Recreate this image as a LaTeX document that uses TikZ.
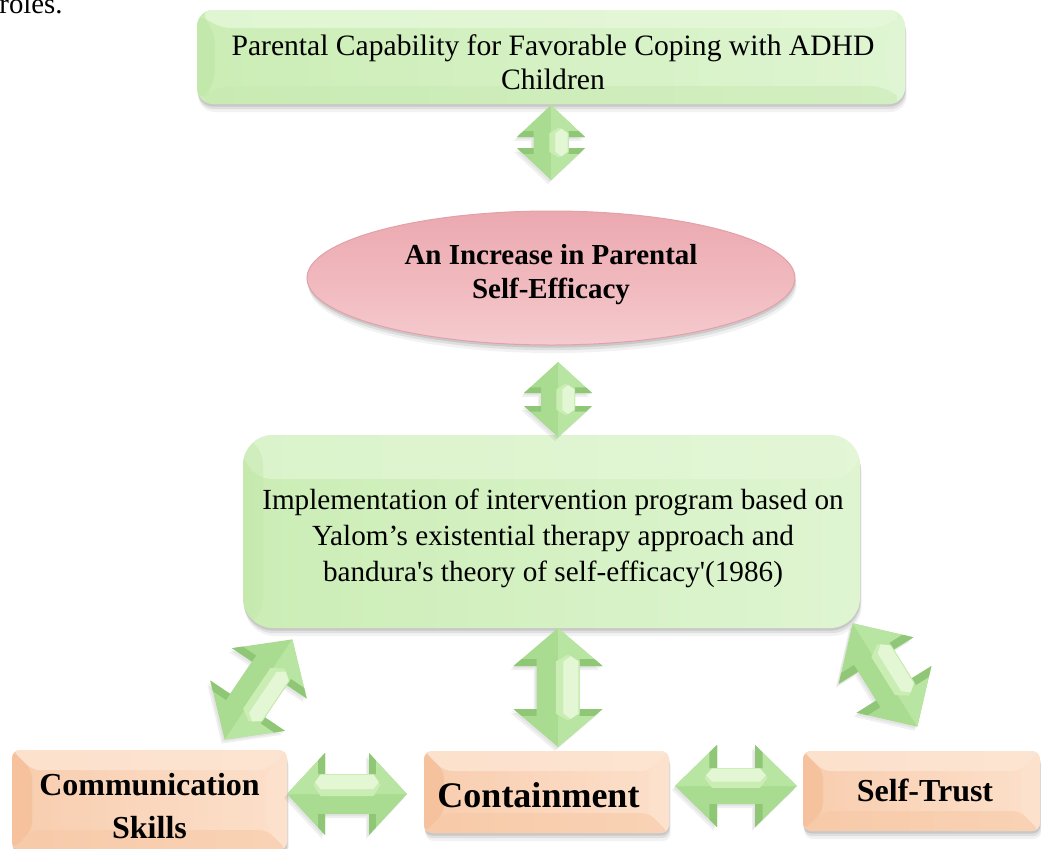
\documentclass[tikz,border=0pt]{standalone}
\usepackage{fontspec}
\setmainfont{Liberation Serif}
% plain family: keeps straight apostrophes as typed
\newfontfamily\bodyfont{Liberation Serif}
\usetikzlibrary{shapes.geometric,shadows,calc}

\definecolor{arrBase}{HTML}{A9DC90}
\definecolor{arrLight}{HTML}{B9E5A3}
\definecolor{arrDark}{HTML}{8FC777}
\definecolor{arrHexA}{HTML}{C9EDB3}
\definecolor{arrHexB}{HTML}{E4F7D5}
\definecolor{grLeftShade}{HTML}{CBEDB5}
\definecolor{grRightShade}{HTML}{DFF5D2}
\definecolor{grTop}{HTML}{E6F8DA}
\definecolor{grLeft}{HTML}{BDE5A3}
\definecolor{grRight}{HTML}{E2F6D6}
\definecolor{grBottom}{HTML}{C8EAB2}
\definecolor{orLeftShade}{HTML}{F8CDAE}
\definecolor{orRightShade}{HTML}{FCE0CB}
\definecolor{orTop}{HTML}{FDE6D4}
\definecolor{orLeft}{HTML}{F4BB92}
\definecolor{orRight}{HTML}{FCE2CF}
\definecolor{orBottom}{HTML}{F7C9A6}
\definecolor{pkTop}{HTML}{EBA9B0}
\definecolor{pkMid}{HTML}{F0B8BD}
\definecolor{pkBottom}{HTML}{F5CBCF}
\definecolor{pkEdge}{HTML}{E3A0A8}

% bevelled faces inside a box (top, left, right, bottom colours; inset)
\newcommand\bevelfaces[5]{%
  \fill[#1] (path picture bounding box.north west) -- (path picture bounding box.north east)
     -- ([xshift=-#5,yshift=-#5]path picture bounding box.north east)
     -- ([xshift=#5,yshift=-#5]path picture bounding box.north west) -- cycle;
  \fill[#2] (path picture bounding box.north west) -- ([xshift=#5,yshift=-#5]path picture bounding box.north west)
     -- ([xshift=#5,yshift=#5]path picture bounding box.south west) -- (path picture bounding box.south west) -- cycle;
  \fill[#3] (path picture bounding box.north east) -- ([xshift=-#5,yshift=-#5]path picture bounding box.north east)
     -- ([xshift=-#5,yshift=#5]path picture bounding box.south east) -- (path picture bounding box.south east) -- cycle;
  \fill[#4] (path picture bounding box.south west) -- ([xshift=#5,yshift=#5]path picture bounding box.south west)
     -- ([xshift=-#5,yshift=#5]path picture bounding box.south east) -- (path picture bounding box.south east) -- cycle;
}

% bevelled double-headed block arrow:
% name, centre x, centre y, angle, half length, head half width, head length, shaft half width
\newcommand\bevelarrow[8]{%
  \coordinate (#1) at (#2,#3);
  \begin{scope}[shift={(#1)}, rotate=#4]
    \pgfmathsetmacro\ahB{#5-#7}
    \pgfmathsetmacro\ahX{#5-#7+0.3*#7}
    \pgfmathsetmacro\ahY{#5-#7+0.12*#7}
    \pgfmathsetmacro\ahT{#5-#7+0.18*#7}
    \pgfmathsetmacro\ahV{#6*0.82}
    \def\arrowoutline{(-#5,0) -- (-\ahB,#6) -- (-\ahB,#8) -- (\ahB,#8) -- (\ahB,#6) -- (#5,0)
      -- (\ahB,-#6) -- (\ahB,-#8) -- (-\ahB,-#8) -- (-\ahB,-#6) -- cycle}
    \fill[black, opacity=0.06, transform canvas={xshift=-1.5pt,yshift=-2pt}] \arrowoutline;
    \fill[black, opacity=0.05, transform canvas={xshift=-0.8pt,yshift=-1pt}] \arrowoutline;
    \fill[arrBase] \arrowoutline;
    % lit halves of the two heads
    \fill[arrLight] (#5,0) -- (\ahB,-#6) -- (\ahB,0) -- cycle;
    \fill[arrLight] (-#5,0) -- (-\ahB,-#6) -- (-\ahB,0) -- cycle;
    % back faces of the heads
    \fill[arrDark] (\ahB,#6) -- (\ahT,\ahV) -- (\ahT,#8) -- (\ahB,#8) -- cycle;
    \fill[arrDark] (\ahB,-#6) -- (\ahT,-\ahV) -- (\ahT,-#8) -- (\ahB,-#8) -- cycle;
    \fill[arrDark] (-\ahB,#6) -- (-\ahT,\ahV) -- (-\ahT,#8) -- (-\ahB,#8) -- cycle;
    \fill[arrDark] (-\ahB,-#6) -- (-\ahT,-\ahV) -- (-\ahT,-#8) -- (-\ahB,-#8) -- cycle;
    % raised face of the shaft
    \fill[arrHexA] (-\ahY,-#8) -- (\ahY,-#8) -- (\ahX,{-0.45*#8}) -- (\ahY,{0.1*#8})
      -- (-\ahY,{0.1*#8}) -- (-\ahX,{-0.45*#8}) -- cycle;
    \fill[arrHexB] (-\ahY,{-0.95*#8}) -- (\ahY,{-0.95*#8}) -- ({\ahX-0.04*#7},{-0.6*#8})
      -- (\ahY,{-0.25*#8}) -- (-\ahY,{-0.25*#8}) -- ({-\ahX+0.04*#7},{-0.6*#8}) -- cycle;
  \end{scope}
}

\tikzset{
  softshadow/.style={
    general shadow={fill=black, opacity=0.05, shadow xshift=0.8pt, shadow yshift=-4pt},
    general shadow={fill=black, opacity=0.08, shadow xshift=0.5pt, shadow yshift=-2.6pt},
    general shadow={fill=black, opacity=0.10, shadow xshift=0.2pt, shadow yshift=-1.3pt}},
  greenbox/.style={rectangle, softshadow, left color=grLeftShade, right color=grRightShade,
    inner sep=0pt},
  orangebox/.style={rectangle, rounded corners=4pt, softshadow, left color=orLeftShade,
    right color=orRightShade, inner sep=0pt,
    path picture={\bevelfaces{orTop,opacity=0.8}{orLeft,opacity=0.6}{orRight,opacity=0.7}{orBottom,opacity=0.6}{10pt}}},
  pinkellipse/.style={ellipse, softshadow, top color=pkTop, bottom color=pkBottom,
    middle color=pkMid, draw=pkEdge, line width=0.5pt, inner sep=0pt},
  plaintext/.style={inner sep=0pt, align=center, font=\bodyfont\fontsize{14.4}{17}\selectfont},
  headtext/.style={inner sep=0pt, align=center, font=\bodyfont\bfseries\fontsize{14.5}{17}\selectfont},
  bottomtext/.style={inner sep=0pt, align=center, font=\bodyfont\bfseries\fontsize{#1}{21.5}\selectfont},
}

\begin{document}
\begin{tikzpicture}[x=0.5pt, y=-0.5pt]
\useasboundingbox (0,0) rectangle (1041,848);
\clip (0,0) rectangle (1041,848);

% end of the preceding sentence
\node[plaintext, anchor=base east] (rolesText) at (63,13) {roles.};

% outcome box
\node[greenbox, rounded corners=8pt, minimum width=354pt, minimum height=47pt,
  path picture={\bevelfaces{grTop,opacity=0.8}{grLeft,opacity=0.5}{grRight,opacity=0.6}{grBottom,opacity=0.5}{9pt}}]
  (cope) at (551,57) {};
\node[plaintext, font=\bodyfont\fontsize{14.8}{17}\selectfont] (copeText) at (553,62)
  {Parental Capability for Favorable Coping with ADHD\\Children};

% self-efficacy ellipse
\node[pinkellipse, minimum width=244pt, minimum height=67pt] (efficacy) at (551,278) {};
\node[headtext] (efficacyText) at (551,275) {An Increase in Parental\\Self-Efficacy};

% intervention programme box
\node[greenbox, rounded corners=15pt, minimum width=308.5pt, minimum height=96.5pt,
  path picture={\fill[grTop, opacity=0.6] (path picture bounding box.north west) rectangle
     ([yshift=-22pt]path picture bounding box.north east);
   \fill[grLeft, opacity=0.35] (path picture bounding box.north west) rectangle
     ([xshift=10pt]path picture bounding box.south west);}]
  (program) at (551.5,531.5) {};
\node[plaintext, font=\bodyfont\fontsize{14.6}{18}\selectfont] (programText) at (553,538)
  {Implementation of intervention program based on\\Yalom’s existential therapy approach and\\bandura's theory of self-efficacy'(1986)};

% components
\node[orangebox, minimum width=137.5pt, minimum height=50pt] (comm) at (149.5,800) {};
\node[bottomtext=16] (commText) at (149.5,806) {Communication\\Skills};
\node[orangebox, minimum width=122.5pt, minimum height=41pt] (contain) at (546.5,792) {};
\node[bottomtext=18] (containText) at (538.5,795) {Containment};
\node[orangebox, minimum width=118.5pt, minimum height=40pt] (trust) at (921.5,791) {};
\node[bottomtext=16] (trustText) at (925,790) {Self-Trust};

% links
\bevelarrow{copeLink}{551}{142.5}{-90}{37.5}{34}{32}{17.5}
\bevelarrow{programLink}{558}{399.5}{-90}{37.5}{34}{31}{17}
\bevelarrow{containLink}{558}{687.5}{-90}{59.5}{44.5}{38}{21.5}
\bevelarrow{commLink}{258.5}{689.5}{236}{60.5}{45}{41}{21}
\bevelarrow{trustLink}{885}{675}{-58}{61}{44}{44}{21}
\bevelarrow{commContainLink}{347}{794}{0}{60}{41}{38}{20}
\bevelarrow{containTrustLink}{736}{786}{0}{61}{41}{42}{18}
\end{tikzpicture}
\end{document}
